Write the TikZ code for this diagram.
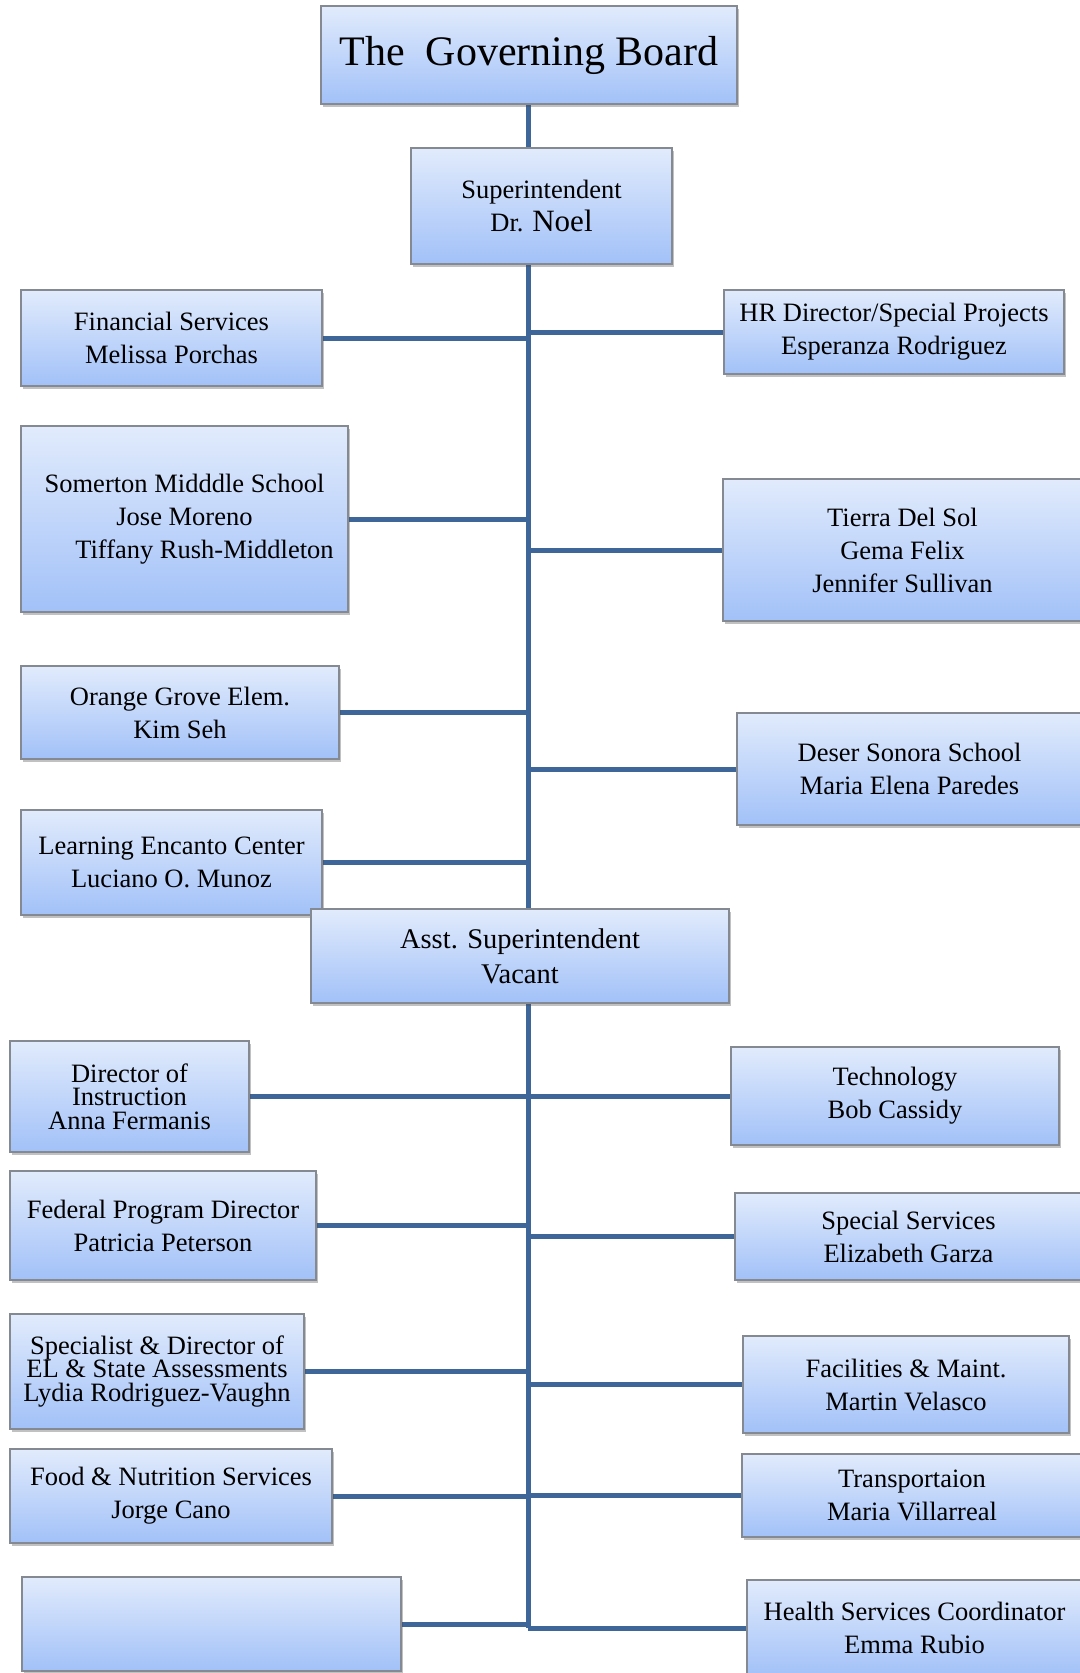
\documentclass[tikz,border=0pt]{standalone}
\usepackage{fontspec}
\setmainfont{Liberation Serif}
\usepackage{tikz}
\usetikzlibrary{shadows}
\usepackage{xcolor}
\definecolor{boxtop}{HTML}{E1EBFC}
\definecolor{boxbot}{HTML}{A2C1F8}
\definecolor{boxedge}{HTML}{858A92}
\definecolor{linkblue}{HTML}{3F6698}
\newcommand{\boxfont}{\fontsize{26.5}{33}\selectfont}
\newcommand{\tightfont}{\fontsize{26.5}{23.5}\selectfont}
\pgfdeclarelayer{background}
\pgfsetlayers{background,main}

\begin{document}
\begin{tikzpicture}[x=1pt,y=-1pt,
      box/.style={draw=boxedge,line width=1.1pt,top color=boxtop,
                  bottom color=boxbot,align=center,inner sep=0pt,
                  font=\boxfont,
                  drop shadow={shadow xshift=2pt,shadow yshift=-3pt,
                               fill=black!70,opacity=.35}},
      link/.style={draw=linkblue,line width=5pt}]
    \useasboundingbox (0,0) rectangle (1079,1673);
    \coordinate (trunk) at (528,0);
    \coordinate (trunkend) at (528,1628);

    \node[box,minimum width=416pt,minimum height=98pt,
          font=\fontsize{42}{50}\selectfont] (board) at (529,55)
      {The\ \ Governing Board};
    \node[box,minimum width=261pt,minimum height=116pt] (super) at (541.5,206)
      {Superintendent\\Dr. {\fontsize{31}{33}\selectfont Noel}};

    \node[box,minimum width=301pt,minimum height=96pt] (fin) at (171.5,338)
      {Financial Services\\Melissa Porchas};
    \node[box,minimum width=340pt,minimum height=84pt] (hr) at (894,332)
      {HR Director/Special Projects\\Esperanza Rodriguez};
    \node[box,minimum width=327pt,minimum height=186pt] (som) at (184.5,519)
      {Somerton Midddle School\\Jose Moreno\\\hspace*{40pt}Tiffany Rush-Middleton};
    \node[box,minimum width=359pt,minimum height=142pt] (tierra) at (902.5,550)
      {Tierra Del Sol\\Gema Felix\\Jennifer Sullivan};
    \node[box,minimum width=318pt,minimum height=93pt] (orange) at (180,712.5)
      {Orange Grove Elem.\\Kim Seh};
    \node[box,minimum width=345pt,minimum height=112pt] (deser) at (909.5,769)
      {Deser Sonora School\\Maria Elena Paredes};
    \node[box,minimum width=301pt,minimum height=105pt] (lec) at (171.5,862.5)
      {Learning Encanto Center\\Luciano O. Munoz};

    \node[box,minimum width=418pt,minimum height=94pt,
          font=\fontsize{28.5}{35}\selectfont] (asst) at (520,956)
      {Asst. Superintendent\\Vacant};

    \node[box,minimum width=239pt,minimum height=111pt,font=\tightfont]
      (dirinst) at (129.5,1096.5) {Director of\\Instruction\\Anna Fermanis};
    \node[box,minimum width=328pt,minimum height=98pt] (tech) at (895,1096)
      {Technology\\Bob Cassidy};
    \node[box,minimum width=306pt,minimum height=109pt] (fed) at (163,1225.5)
      {Federal Program Director\\Patricia Peterson};
    \node[box,minimum width=347pt,minimum height=87pt] (spec) at (908.5,1236.5)
      {Special Services\\Elizabeth Garza};
    \node[box,minimum width=294pt,minimum height=115pt,font=\tightfont]
      (ela) at (157,1371.5)
      {Specialist \& Director of\\EL \& State Assessments\\Lydia Rodriguez-Vaughn};
    \node[box,minimum width=326pt,minimum height=97pt] (fac) at (906,1384.5)
      {Facilities \& Maint.\\Martin Velasco};
    \node[box,minimum width=322pt,minimum height=94pt] (food) at (171,1496)
      {Food \& Nutrition Services\\Jorge Cano};
    \node[box,minimum width=340pt,minimum height=83pt] (trans) at (912,1495.5)
      {Transportaion\\Maria Villarreal};
    \node[box,minimum width=379pt,minimum height=94pt] (blank) at (211.5,1624) {};
    \node[box,minimum width=335pt,minimum height=96pt] (health) at (914.5,1628)
      {Health Services Coordinator\\Emma Rubio};

    \begin{pgfonlayer}{background}
      \draw[link] (board.south -| trunk) -- (trunkend);
      \foreach \n in {fin,som,orange,lec,dirinst,fed,ela,food,blank}
        \draw[link] (\n.east) -- (\n.east -| trunk);
      \foreach \n in {hr,tierra,deser,tech,spec,fac,trans,health}
        \draw[link] (\n.west) -- (\n.west -| trunk);
    \end{pgfonlayer}
  \end{tikzpicture}
\end{document}
